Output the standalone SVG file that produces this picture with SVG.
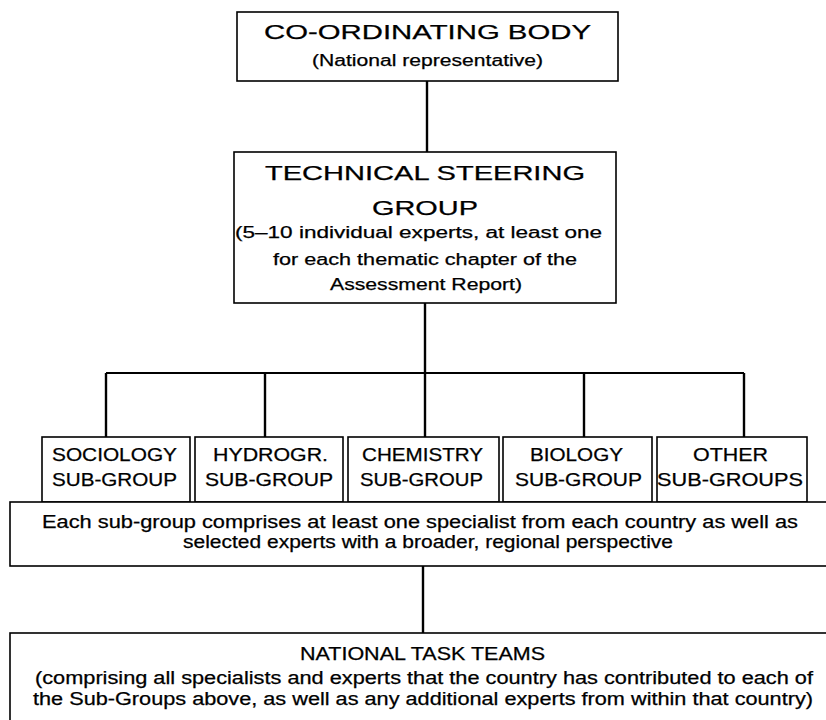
<svg xmlns="http://www.w3.org/2000/svg" width="826" height="720" viewBox="0 0 826 720">
<style>
  .box { fill: #fff; stroke: #000; stroke-width: 1.6; }
  .conn { fill: none; stroke: #000; stroke-width: 2.4; }
  .bus { fill: none; stroke: #000; stroke-width: 1.8; }
  text { font-family: "Liberation Sans", Arial, Helvetica, sans-serif; fill: #000; stroke: #000; stroke-width: 0.25; }
  .big { font-size: 21px; }
  .sub { font-size: 16px; }
  .sg { font-size: 18px; text-anchor: middle; }
  .body { font-size: 17.5px; }
</style>
<rect width="826" height="720" fill="#fff"/>

<g id="connectors">
  <line class="conn" x1="427" y1="81" x2="427" y2="152"/>
  <line class="conn" x1="425" y1="303" x2="425" y2="373"/>
  <line class="bus" x1="106" y1="373" x2="744" y2="373"/>
  <line class="conn" x1="106" y1="373" x2="106" y2="437"/>
  <line class="conn" x1="265" y1="373" x2="265" y2="437"/>
  <line class="conn" x1="425" y1="373" x2="425" y2="437"/>
  <line class="conn" x1="584" y1="373" x2="584" y2="437"/>
  <line class="conn" x1="744" y1="373" x2="744" y2="437"/>
  <line class="conn" x1="423" y1="566" x2="423" y2="633"/>
</g>

<g id="coordinating-body">
  <rect class="box" x="237" y="12" width="381" height="69"/>
  <text class="big" x="264" y="39" textLength="327" lengthAdjust="spacingAndGlyphs">CO-ORDINATING BODY</text>
  <text class="sub" x="312" y="66" textLength="231" lengthAdjust="spacingAndGlyphs">(National representative)</text>
</g>

<g id="technical-steering-group">
  <rect class="box" x="234" y="152" width="382" height="151"/>
  <text class="big" x="265" y="180" textLength="320" lengthAdjust="spacingAndGlyphs">TECHNICAL STEERING</text>
  <text class="big" x="372" y="215" textLength="106" lengthAdjust="spacingAndGlyphs">GROUP</text>
  <text class="sub" x="235" y="238" textLength="367" lengthAdjust="spacingAndGlyphs">(5–10 individual experts, at least one</text>
  <text class="sub" x="273" y="265" textLength="304" lengthAdjust="spacingAndGlyphs">for each thematic chapter of the</text>
  <text class="sub" x="330" y="290" textLength="192" lengthAdjust="spacingAndGlyphs">Assessment Report)</text>
</g>

<g id="sociology">
  <rect class="box" x="42" y="437" width="148" height="65"/>
  <text class="sg" x="114.5" y="461" textLength="125" lengthAdjust="spacingAndGlyphs">SOCIOLOGY</text>
  <text class="sg" x="114.5" y="486" textLength="125" lengthAdjust="spacingAndGlyphs">SUB-GROUP</text>
</g>
<g id="hydrogr">
  <rect class="box" x="195" y="437" width="148" height="65"/>
  <text class="sg" x="270.5" y="461" textLength="115" lengthAdjust="spacingAndGlyphs">HYDROGR.</text>
  <text class="sg" x="269" y="486" textLength="128" lengthAdjust="spacingAndGlyphs">SUB-GROUP</text>
</g>
<g id="chemistry">
  <rect class="box" x="348" y="437" width="151" height="65"/>
  <text class="sg" x="422.5" y="461" textLength="121" lengthAdjust="spacingAndGlyphs">CHEMISTRY</text>
  <text class="sg" x="421.5" y="486" textLength="123" lengthAdjust="spacingAndGlyphs">SUB-GROUP</text>
</g>
<g id="biology">
  <rect class="box" x="503" y="437" width="149" height="65"/>
  <text class="sg" x="576.5" y="461" textLength="93" lengthAdjust="spacingAndGlyphs">BIOLOGY</text>
  <text class="sg" x="578.5" y="486" textLength="127" lengthAdjust="spacingAndGlyphs">SUB-GROUP</text>
</g>
<g id="other">
  <rect class="box" x="657" y="437" width="150" height="65"/>
  <text class="sg" x="730.5" y="461" textLength="75" lengthAdjust="spacingAndGlyphs">OTHER</text>
  <text class="sg" x="730" y="486" textLength="146" lengthAdjust="spacingAndGlyphs">SUB-GROUPS</text>
</g>

<g id="sub-group-composition">
  <rect class="box" x="10" y="502" width="830" height="64"/>
  <text class="body" x="42" y="528" textLength="756" lengthAdjust="spacingAndGlyphs">Each sub-group comprises at least one specialist from each country as well as</text>
  <text class="body" x="183" y="548" textLength="490" lengthAdjust="spacingAndGlyphs">selected experts with a broader, regional perspective</text>
</g>

<g id="national-task-teams">
  <rect class="box" x="10" y="633" width="830" height="100"/>
  <text class="body" x="300" y="660" textLength="245" lengthAdjust="spacingAndGlyphs">NATIONAL TASK TEAMS</text>
  <text class="body" x="35" y="684" textLength="778" lengthAdjust="spacingAndGlyphs">(comprising all specialists and experts that the country has contributed to each of</text>
  <text class="body" x="33" y="705" textLength="780" lengthAdjust="spacingAndGlyphs">the Sub-Groups above, as well as any additional experts from within that country)</text>
</g>
</svg>
